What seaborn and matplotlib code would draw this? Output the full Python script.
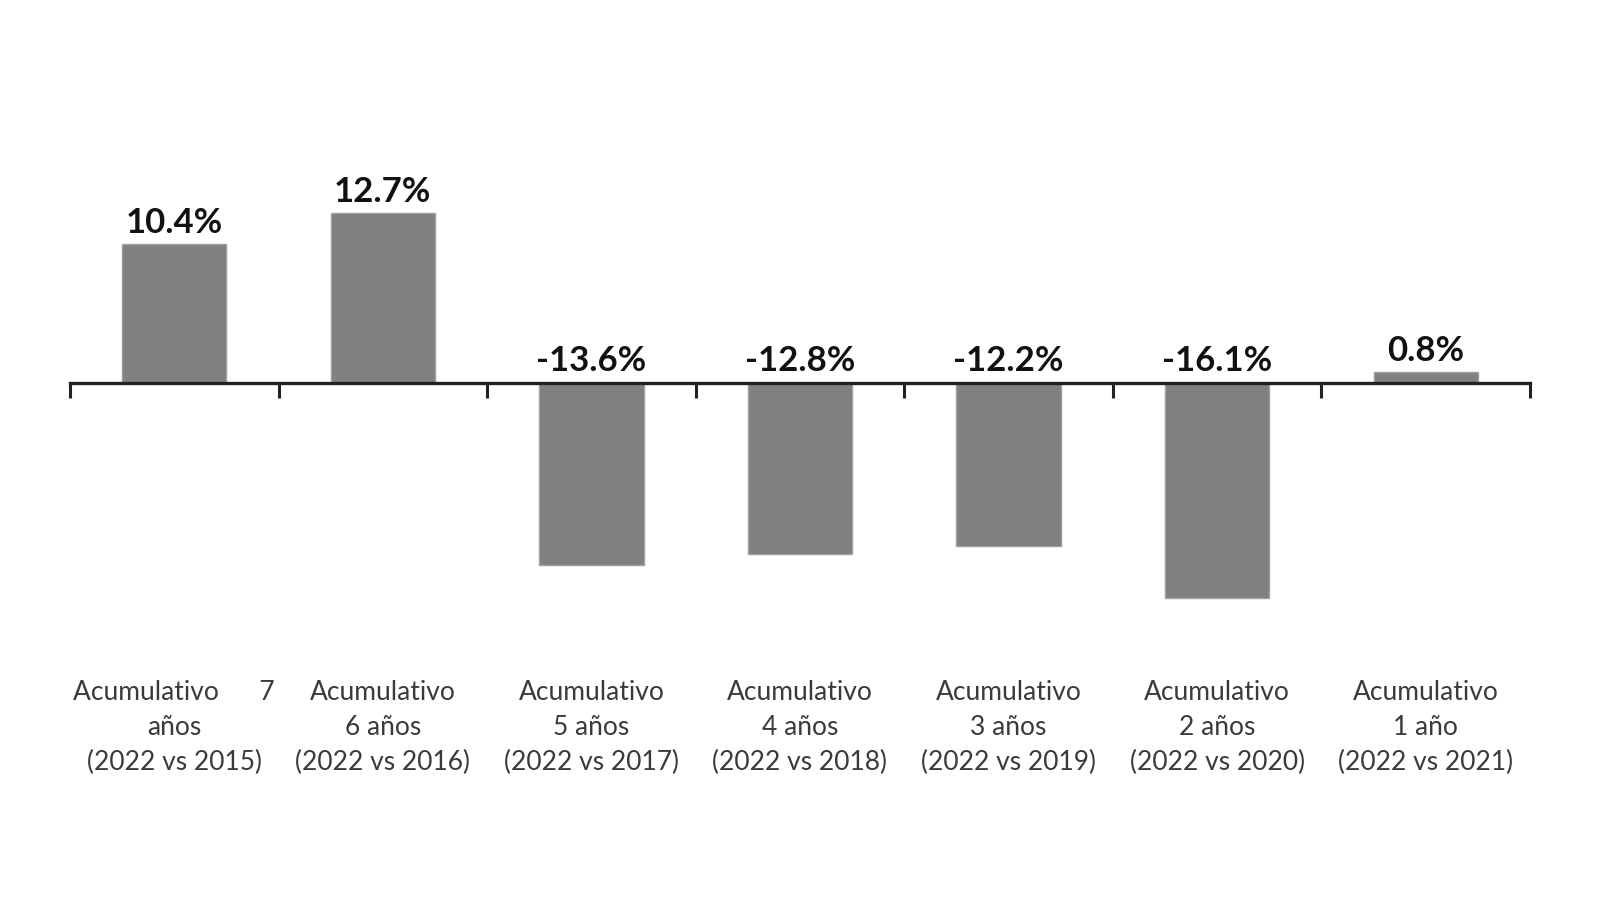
import matplotlib
matplotlib.use("Agg")
import matplotlib.pyplot as plt
import matplotlib.transforms as mtransforms
import seaborn as sns
import pandas as pd

categories = ["7 años", "6 años", "5 años", "4 años", "3 años", "2 años", "1 año"]
values = [10.4, 12.7, -13.6, -12.8, -12.2, -16.1, 0.8]
value_labels = ["10.4%", "12.7%", "-13.6%", "-12.8%", "-12.2%", "-16.1%", "0.8%"]
tick_labels = [
    "Acumulativo      7\naños\n(2022 vs 2015)",
    "Acumulativo\n6 años\n(2022 vs 2016)",
    "Acumulativo\n5 años\n(2022 vs 2017)",
    "Acumulativo\n4 años\n(2022 vs 2018)",
    "Acumulativo\n3 años\n(2022 vs 2019)",
    "Acumulativo\n2 años\n(2022 vs 2020)",
    "Acumulativo\n1 año\n(2022 vs 2021)",
]

sns.set_theme(style="white")
plt.rcParams["font.family"] = ["Lato", "DejaVu Sans"]

df = pd.DataFrame({"cat": categories, "val": values})

fig = plt.figure(figsize=(16, 9), dpi=100)
ax = fig.add_axes([70 / 1600, 1 - 650 / 900, (1530 - 70) / 1600, 550 / 900])

sns.barplot(data=df, x="cat", y="val", color="#808080", saturation=1,
            width=0.5, ax=ax, edgecolor="#a0a0a0", linewidth=1)

ax.set_xlim(-0.5, len(categories) - 0.5)
ax.set_ylim(-20.0, 21.2)

for s in ["top", "right", "left"]:
    ax.spines[s].set_visible(False)
ax.spines["bottom"].set_position(("data", 0))
ax.spines["bottom"].set_color("#222222")
ax.spines["bottom"].set_linewidth(2.4)
ax.spines["bottom"].set_zorder(5)

ax.set_yticks([])
ax.set_xticks([i - 0.5 for i in range(len(categories) + 1)])
ax.set_xticklabels([])
ax.tick_params(axis="x", direction="out", length=11, width=2.2, color="#222222", bottom=True)
ax.set_xlabel("")
ax.set_ylabel("")

for i, (v, lab) in enumerate(zip(values, value_labels)):
    y = v if v > 0 else 0
    ax.annotate(lab, (i, y), xytext=(0, 4), textcoords="offset points",
                ha="center", va="bottom", fontsize=25, fontweight="bold", color="#111111")

trans = mtransforms.blended_transform_factory(ax.transData, fig.transFigure)
for i, lab in enumerate(tick_labels):
    ax.text(i, 1 - 680 / 900, lab, transform=trans, ha="center", va="top",
            fontsize=19, color="#3a3a3a", linespacing=1.5)

fig.savefig("out.png", dpi=100, facecolor="white")
